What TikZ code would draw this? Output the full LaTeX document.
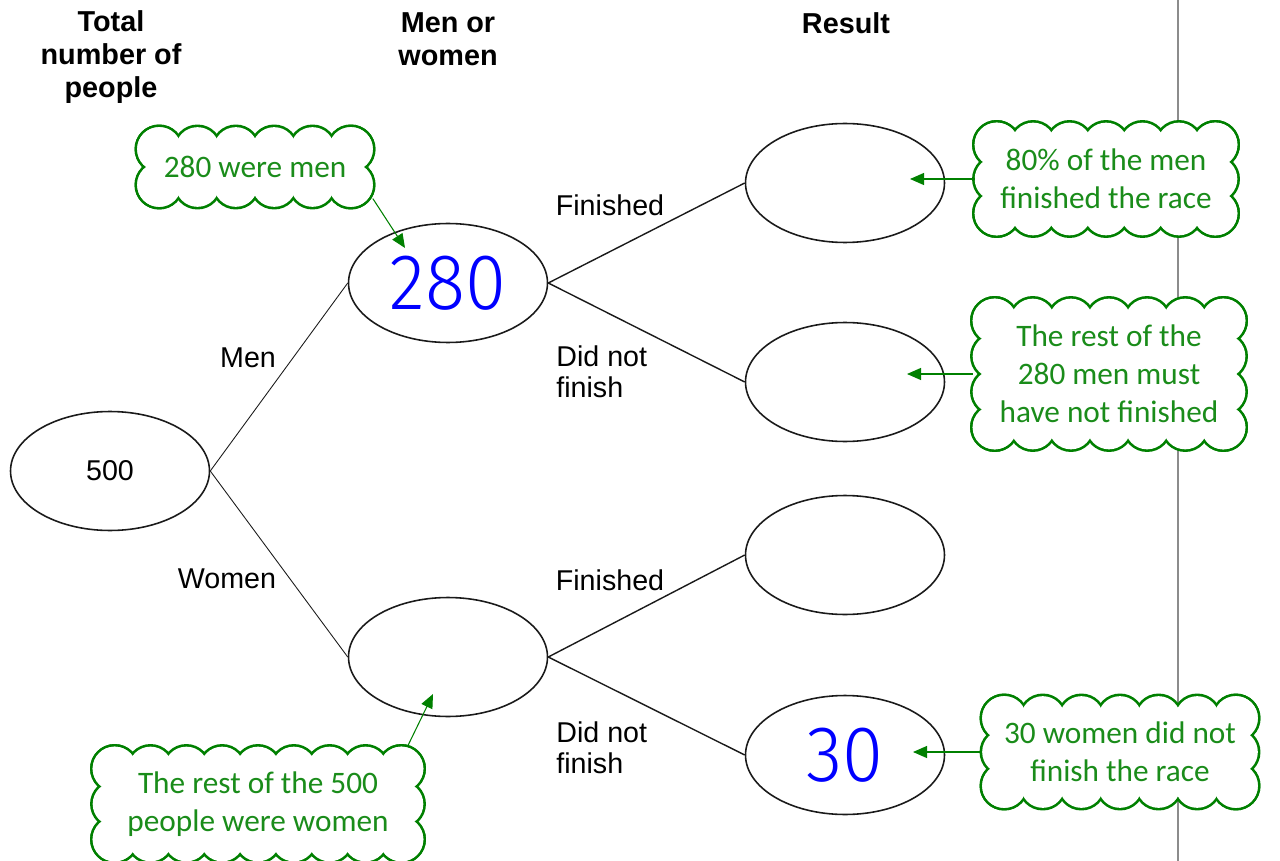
\documentclass[tikz,border=0pt]{standalone}
\usepackage{fontspec}
\usepackage{graphicx}
\setmainfont{Liberation Sans}
\newfontfamily\notefont{Carlito}
\newfontfamily\handfont{Fira Sans Light}
\usetikzlibrary{shapes.geometric, arrows.meta, positioning, calc, backgrounds}
\definecolor{NoteGreen}{HTML}{008000}
\definecolor{TextGreen}{HTML}{1A8C1A}
\definecolor{InkBlue}{HTML}{0000FF}
\definecolor{TreeLine}{HTML}{1A1A1A}
\definecolor{RuleGray}{HTML}{8C8C8C}

% radius of one puff of a cloud
\newcommand{\puffr}{0.44cm}
% handwritten numbers
\newcommand{\handnum}[1]{\scalebox{0.94}[1]{\handfont\fontsize{45pt}{45pt}\selectfont #1}}
% puffs round a cloud node: node, bumps across, bumps down, style
\newcommand{\cloudpuffs}[4]{%
  \path (#1.north west) ++(\puffr,-\puffr) coordinate (#1-nw)
        (#1.north east) ++(-\puffr,-\puffr) coordinate (#1-ne)
        (#1.south east) ++(-\puffr,\puffr) coordinate (#1-se)
        (#1.south west) ++(\puffr,\puffr) coordinate (#1-sw);
  \path[#4] (#1-nw) rectangle (#1-se);
  \foreach \i in {0,...,#2}
    \path[#4] ($(#1-nw)!\i/#2!(#1-ne)$) circle (\puffr)
              ($(#1-sw)!\i/#2!(#1-se)$) circle (\puffr);
  \foreach \j in {0,...,#3}
    \path[#4] ($(#1-nw)!\j/#3!(#1-sw)$) circle (\puffr)
              ($(#1-ne)!\j/#3!(#1-se)$) circle (\puffr);
}

\begin{document}
\begin{tikzpicture}[
        x=0.02cm, y=-0.02cm,
        oval/.style={ellipse, draw=TreeLine, line width=0.9pt, minimum width=3.98cm, minimum height=2.38cm, inner sep=0pt, font=\fontsize{16.3pt}{19pt}\selectfont},
        head/.style={align=center, font=\bfseries\fontsize{16.4pt}{18.7pt}\selectfont, inner sep=0pt},
        lbl/.style={align=left, font=\fontsize{16.3pt}{17.6pt}\selectfont, inner sep=0pt},
        note/.style={rectangle, inner sep=0pt, align=center, text=TextGreen, font=\notefont\fontsize{17.8pt}{21.5pt}\selectfont},
        branch/.style={TreeLine, line width=0.8pt},
        twig/.style={TreeLine, line width=0.5pt},
        pointer/.style={-{Triangle[length=0.28cm, width=0.24cm]}, NoteGreen, line width=0.6pt}
      ]
        \useasboundingbox (0,0) rectangle (1280,861);

        % column headings
        \node[head] (htotal) at (111,57) {Total\\number of\\people};
        \node[head] (hsex) at (448,39) {Men or\\women};
        \node[head] (hres) at (846,23) {Result};

        % the tree
        \node[oval] (root) at (110,471) {500};
        \node[oval, text=InkBlue] (men) at (448,283) {\handnum{280}};
        \node[oval] (women) at (448,657) {};
        \node[oval] (mfin) at (845,183) {};
        \node[oval] (mnot) at (845,382) {};
        \node[oval] (wfin) at (845,555) {};
        \node[oval, text=InkBlue] (wnot) at (845,755) {\handnum{30}};

        \draw[twig] (root.east) -- (men.west);
        \draw[twig] (root.east) -- (women.west);
        \draw[branch] (men.east) -- (mfin.west);
        \draw[branch] (men.east) -- (mnot.west);
        \draw[branch] (women.east) -- (wfin.west);
        \draw[branch] (women.east) -- (wnot.west);

        \node[lbl] (lmen) at (248,358) {Men};
        \node[lbl] (lwomen) at (227,579) {Women};
        \node[lbl] (lmfin) at (610,205) {Finished};
        \node[lbl, anchor=west] (lmnot) at (556,372) {Did not\\finish};
        \node[lbl] (lwfin) at (610,580) {Finished};
        \node[lbl, anchor=west] (lwnot) at (556,748) {Did not\\finish};

        % notes
        \node[note, minimum width=4.7cm, minimum height=1.58cm] (c1) at (255,167) {280 were men};
        \node[note, minimum width=5.24cm, minimum height=2.24cm] (c2) at (1106,179) {80\% of the men\\finished the race};
        \node[note, minimum width=5.44cm, minimum height=3.0cm] (c3) at (1109,374) {The rest of the\\280 men must\\have not finished};
        \node[note, minimum width=6.6cm, minimum height=2.28cm] (c4) at (258,804) {The rest of the 500\\people were women};
        \node[note, minimum width=5.5cm, minimum height=2.22cm] (c5) at (1120,752) {30 women did not\\finish the race};

        \coordinate (t1) at (405,248);
        \coordinate (t2) at (910,179);
        \coordinate (t3) at (907,374);
        \coordinate (t4) at (433,694);
        \coordinate (t5) at (913,752);

        \draw[pointer] (c1.-15) -- (t1);
        \draw[pointer] (c2.west) -- (t2);
        \draw[pointer] (c3.west) -- (t3);
        \draw[pointer] (c4.21) -- (t4);
        \draw[pointer] (c5.west) -- (t5);

        \begin{scope}[on background layer]
          \draw[RuleGray, line width=0.8pt] (1178,0) -- (1178,861);
          \cloudpuffs{c1}{5}{1}{draw=NoteGreen, line width=3pt}
          \cloudpuffs{c1}{5}{1}{fill=white}
          \cloudpuffs{c2}{6}{2}{draw=NoteGreen, line width=3pt}
          \cloudpuffs{c2}{6}{2}{fill=white}
          \cloudpuffs{c3}{6}{3}{draw=NoteGreen, line width=3pt}
          \cloudpuffs{c3}{6}{3}{fill=white}
          \cloudpuffs{c4}{8}{2}{draw=NoteGreen, line width=3pt}
          \cloudpuffs{c4}{8}{2}{fill=white}
          \cloudpuffs{c5}{6}{2}{draw=NoteGreen, line width=3pt}
          \cloudpuffs{c5}{6}{2}{fill=white}
        \end{scope}
      \end{tikzpicture}
\end{document}
